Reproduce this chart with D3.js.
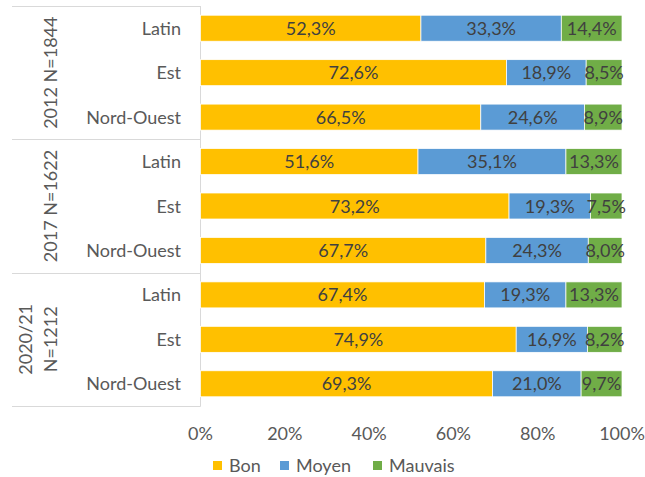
<!DOCTYPE html>
<html><head><meta charset="utf-8">
<script src="https://cdn.jsdelivr.net/npm/d3@7"></script>
<style>body{margin:0;background:#fff}svg{display:block}text{font-family:Lato,"Open Sans",sans-serif}</style>
</head><body><svg id="c" width="645" height="477"></svg>
<script>
const groups = [["2012 N=1844"], ["2017 N=1622"], ["2020/21", "N=1212"]];
const regions = ["Latin", "Est", "Nord-Ouest"];
const seriesNames = ["Bon", "Moyen", "Mauvais"];
const colors = ["#FFC000", "#5B9BD5", "#70AD47"];
const bon =     [52.3, 72.6, 66.5, 51.6, 73.2, 67.7, 67.4, 74.9, 69.3];
const moyen =   [33.3, 18.9, 24.6, 35.1, 19.3, 24.3, 19.3, 16.9, 21.0];
const mauvais = [14.4, 8.5, 8.9, 13.3, 7.5, 8.0, 13.3, 8.2, 9.7];
const ticks = [0, 20, 40, 60, 80, 100];

const svg = d3.select("#c");
const rows = d3.range(9);
const x = d3.scaleLinear().domain([0, 100]).range([200.5, 622]);
const y = d3.scaleBand().domain(rows).range([6, 406]).paddingInner(0.415).paddingOuter(0.2075);
const fmt = v => v.toFixed(1).replace(".", ",") + "%";

// axis/separator lines
const gridC = "#D9D9D9";
svg.append("line").attr("x1", 200.5).attr("x2", 200.5).attr("y1", 6).attr("y2", 406.5).attr("stroke", gridC);
[0, 3, 6, 9].forEach(i => {
  const yy = Math.round(6 + i * y.step()) + 0.5;
  svg.append("line").attr("x1", 12).attr("x2", 200.5).attr("y1", yy).attr("y2", yy).attr("stroke", gridC);
});

const series = [bon, moyen, mauvais];
rows.forEach(r => {
  let acc = 0;
  series.forEach((s, k) => {
    const v = s[r];
    const x0 = x(acc), x1 = x(acc + v);
    svg.append("rect").attr("x", x0).attr("y", y(r)).attr("width", x1 - x0).attr("height", y.bandwidth())
      .attr("fill", colors[k]).attr("stroke", "#fff").attr("stroke-width", 0.75);
    svg.append("text").attr("x", (x0 + x1) / 2).attr("y", y(r) + y.bandwidth() / 2 + 6.5)
      .attr("text-anchor", "middle").attr("font-size", 18).attr("fill", "#404040").text(fmt(v));
    acc += v;
  });
  svg.append("text").attr("x", 181).attr("y", y(r) + y.bandwidth() / 2 + 6.5)
    .attr("text-anchor", "end").attr("font-size", 18).attr("fill", "#595959").text(regions[r % 3]);
});

groups.forEach((g, i) => {
  const cy = 6 + (i * 3 + 1.5) * y.step();
  const t = svg.append("text").attr("transform", `translate(0,${cy}) rotate(-90)`)
    .attr("text-anchor", "middle").attr("font-size", 18).attr("fill", "#595959");
  const n = g.length;
  g.forEach((line, j) => {
    const cx = 50 - (n - 1 - j) * 25;
    t.append("tspan").attr("x", 0).attr("y", cx + 6.5).text(line);
  });
});

// x tick labels
ticks.forEach(tk => {
  svg.append("text").attr("x", x(tk)).attr("y", 440).attr("text-anchor", "middle")
    .attr("font-size", 18).attr("fill", "#595959").text(tk + "%");
});

// legend
const legX = [213, 280, 373];
seriesNames.forEach((n, k) => {
  svg.append("rect").attr("x", legX[k]).attr("y", 461).attr("width", 9).attr("height", 9).attr("fill", colors[k]);
  svg.append("text").attr("x", legX[k] + 16).attr("y", 472).attr("font-size", 18).attr("fill", "#595959").text(n);
});
</script></body></html>
